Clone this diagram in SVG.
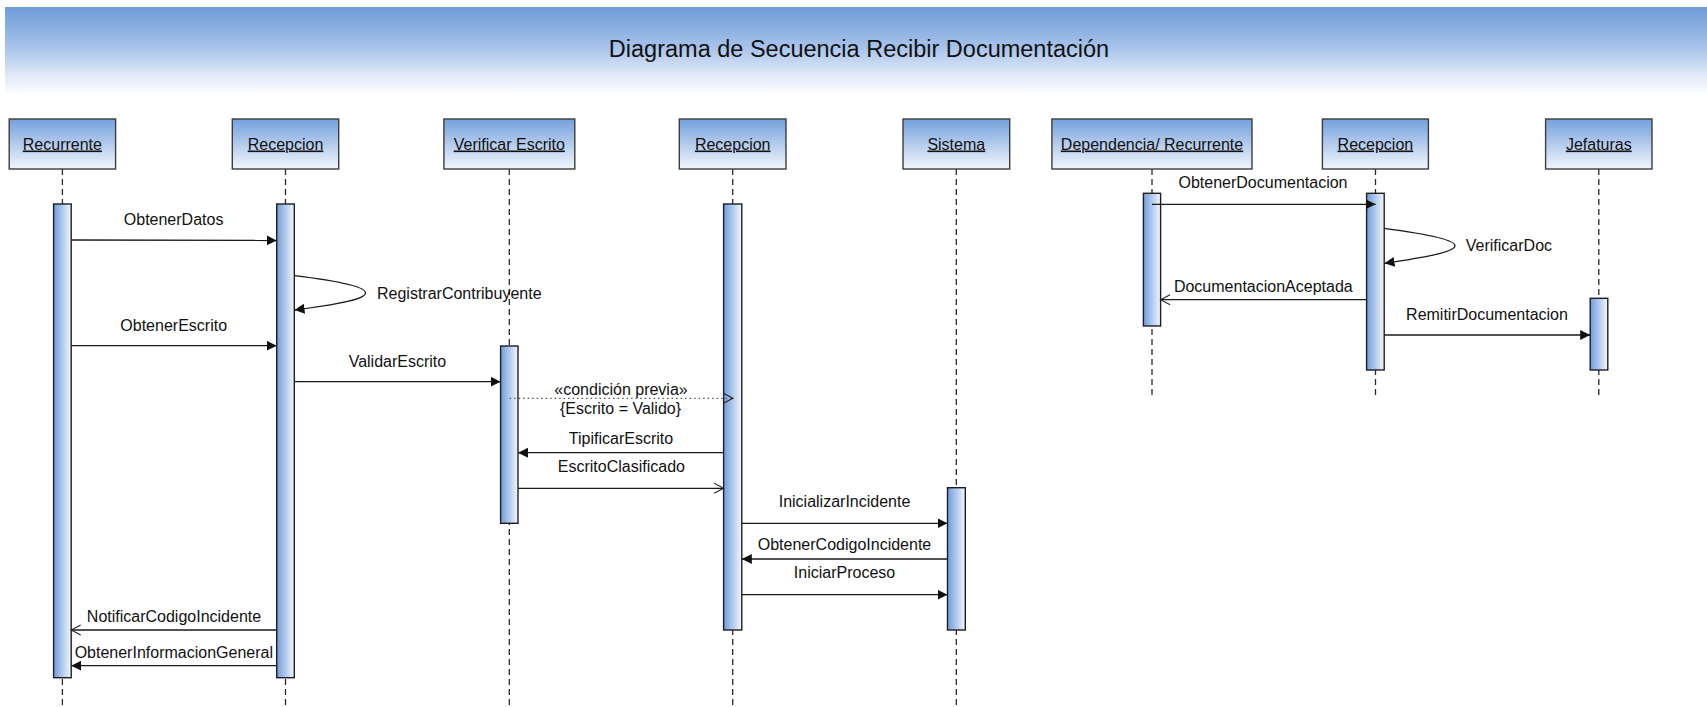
<svg xmlns="http://www.w3.org/2000/svg" width="1707" height="707" viewBox="0 0 1707 707">
  <defs>
    <linearGradient id="bannerFill" x1="0" y1="0" x2="0" y2="1">
      <stop offset="0" stop-color="#6E9CD9"/>
      <stop offset="0.45" stop-color="#A6C2EA"/>
      <stop offset="0.8" stop-color="#E4ECF9"/>
      <stop offset="1" stop-color="#FFFFFF"/>
    </linearGradient>
    <linearGradient id="boxFill" x1="0" y1="0" x2="0" y2="1">
      <stop offset="0" stop-color="#74A0DC"/>
      <stop offset="1" stop-color="#F2F6FD"/>
    </linearGradient>
    <linearGradient id="barFill" x1="0" y1="0" x2="1" y2="0">
      <stop offset="0" stop-color="#6F9CDD"/>
      <stop offset="1" stop-color="#F4F7FD"/>
    </linearGradient>
    <marker id="filled" markerUnits="userSpaceOnUse" markerWidth="12" markerHeight="12" refX="10" refY="5" orient="auto">
      <path d="M0,0 L10,5 L0,10 z" fill="#111"/>
    </marker>
    <marker id="open" markerUnits="userSpaceOnUse" markerWidth="12" markerHeight="12" refX="10" refY="5.5" orient="auto">
      <path d="M0.5,0.5 L10,5.5 L0.5,10.5" fill="none" stroke="#222" stroke-width="1.1"/>
    </marker>
  </defs>
  <style>
    text { font-family: "Liberation Sans", Arial, sans-serif; fill: #111; }
    .title { font-size: 23.5px; text-anchor: middle; }
    .name { font-size: 16px; text-anchor: middle; text-decoration: underline; }
    .lbl { font-size: 16px; text-anchor: middle; }
    .lbl-s { font-size: 16px; text-anchor: start; }
    .box { fill: url(#boxFill); stroke: #3C3C3C; stroke-width: 1.4; }
    .bar { fill: url(#barFill); stroke: #1E1E1E; stroke-width: 1.4; }
    .life { stroke: #2A2A2A; stroke-width: 1.3; stroke-dasharray: 6 4; fill: none; }
    .msg { stroke: #1A1A1A; stroke-width: 1.3; fill: none; }
    .sync { marker-end: url(#filled); }
    .reply { marker-end: url(#open); }
    .cond { stroke: #555; stroke-width: 1.2; stroke-dasharray: 1.5 3; fill: none; marker-end: url(#open); }
  </style>

  <!-- header band -->
  <rect x="5" y="7" width="1702" height="88" fill="url(#bannerFill)"/>
  <text class="title" x="859" y="57">Diagrama de Secuencia Recibir Documentación</text>

  <!-- lifelines -->
  <g id="lifelines">
    <line class="life" x1="62.4" y1="169" x2="62.4" y2="707"/>
    <line class="life" x1="285.5" y1="169" x2="285.5" y2="707"/>
    <line class="life" x1="509.3" y1="169" x2="509.3" y2="707"/>
    <line class="life" x1="732.7" y1="169" x2="732.7" y2="707"/>
    <line class="life" x1="956.3" y1="169" x2="956.3" y2="707"/>
    <line class="life" x1="1152" y1="169" x2="1152" y2="398"/>
    <line class="life" x1="1375.5" y1="169" x2="1375.5" y2="398"/>
    <line class="life" x1="1598.8" y1="169" x2="1598.8" y2="398"/>
  </g>

  <!-- participants -->
  <g id="recurrente">
    <rect class="box" x="9.2" y="119" width="106.4" height="50"/>
    <text class="name" x="62.4" y="149.5">Recurrente</text>
    <rect class="bar" x="53.6" y="204" width="17.6" height="473.7"/>
  </g>
  <g id="recepcion-1">
    <rect class="box" x="232.3" y="119" width="106.4" height="50"/>
    <text class="name" x="285.5" y="149.5">Recepcion</text>
    <rect class="bar" x="276.7" y="204" width="17.6" height="473.7"/>
  </g>
  <g id="verificar-escrito">
    <rect class="box" x="443.9" y="119" width="130.9" height="50"/>
    <text class="name" x="509.3" y="149.5">Verificar Escrito</text>
    <rect class="bar" x="500.6" y="346" width="17.4" height="177.3"/>
  </g>
  <g id="recepcion-2">
    <rect class="box" x="679.3" y="119" width="106.7" height="50"/>
    <text class="name" x="732.7" y="149.5">Recepcion</text>
    <rect class="bar" x="723.6" y="204" width="18.2" height="426"/>
  </g>
  <g id="sistema">
    <rect class="box" x="903" y="119" width="106.7" height="50"/>
    <text class="name" x="956.3" y="149.5">Sistema</text>
    <rect class="bar" x="947.5" y="487.7" width="17.8" height="142.3"/>
  </g>
  <g id="dependencia-recurrente">
    <rect class="box" x="1051.9" y="119" width="200.1" height="50"/>
    <text class="name" x="1152" y="149.5">Dependencia/ Recurrente</text>
    <rect class="bar" x="1143.4" y="193.3" width="17.2" height="132.7"/>
  </g>
  <g id="recepcion-3">
    <rect class="box" x="1322.4" y="119" width="106" height="50"/>
    <text class="name" x="1375.4" y="149.5">Recepcion</text>
    <rect class="bar" x="1366.6" y="193.3" width="17.6" height="176.7"/>
  </g>
  <g id="jefaturas">
    <rect class="box" x="1545.6" y="119" width="106.4" height="50"/>
    <text class="name" x="1598.8" y="149.5">Jefaturas</text>
    <rect class="bar" x="1590.2" y="298.3" width="17.6" height="71.7"/>
  </g>

  <!-- messages -->
  <g id="connectors">
    <line class="msg sync" x1="71.2" y1="240" x2="276.7" y2="240.5"/>
    <path class="msg sync" d="M294.3,275.7 C330,280 365.5,286 365.5,293 C365.5,300 330,305.5 294.5,310"/>
    <line class="msg sync" x1="71.2" y1="345.7" x2="276.7" y2="345.7"/>
    <line class="msg sync" x1="294.3" y1="381.7" x2="500.6" y2="381.7"/>
    <line class="cond" x1="509.6" y1="398.3" x2="733" y2="398.3"/>
    <line class="msg sync" x1="723.6" y1="452.7" x2="518" y2="452.7"/>
    <line class="msg reply" x1="518" y1="488.3" x2="723.6" y2="488.3"/>
    <line class="msg sync" x1="741.8" y1="523.3" x2="947.5" y2="523.3"/>
    <line class="msg sync" x1="947.5" y1="559" x2="741.8" y2="559"/>
    <line class="msg sync" x1="741.8" y1="594.7" x2="947.5" y2="594.7"/>
    <line class="msg reply" x1="276.7" y1="630" x2="71.2" y2="630"/>
    <line class="msg sync" x1="276.7" y1="665.7" x2="71.2" y2="665.7"/>
    <line class="msg sync" x1="1152" y1="204.3" x2="1375.6" y2="204.3"/>
    <path class="msg sync" d="M1384.2,228.3 C1420,233 1455,239 1455,245.7 C1455,252.5 1420,258 1384.5,263.3"/>
    <line class="msg reply" x1="1366.6" y1="299.7" x2="1160.6" y2="299.7"/>
    <line class="msg sync" x1="1384.2" y1="335" x2="1590.2" y2="335"/>
  </g>

  <!-- message labels -->
  <g id="labels">
    <text class="lbl" x="173.6" y="224.8">ObtenerDatos</text>
    <text class="lbl-s" x="377" y="298.8">RegistrarContribuyente</text>
    <text class="lbl" x="173.7" y="330.5">ObtenerEscrito</text>
    <text class="lbl" x="397.4" y="366.5">ValidarEscrito</text>
    <text class="lbl" x="621" y="394.5">«condición previa»</text>
    <text class="lbl" x="620.5" y="413.5">{Escrito = Valido}</text>
    <text class="lbl" x="621" y="443.5">TipificarEscrito</text>
    <text class="lbl" x="621.4" y="472">EscritoClasificado</text>
    <text class="lbl" x="844.5" y="507">InicializarIncidente</text>
    <text class="lbl" x="844.5" y="549.5">ObtenerCodigoIncidente</text>
    <text class="lbl" x="844.5" y="578">IniciarProceso</text>
    <text class="lbl" x="174" y="621.5">NotificarCodigoIncidente</text>
    <text class="lbl" x="173.8" y="658">ObtenerInformacionGeneral</text>
    <text class="lbl" x="1263" y="188">ObtenerDocumentacion</text>
    <text class="lbl-s" x="1465.8" y="251">VerificarDoc</text>
    <text class="lbl" x="1263.3" y="291.5">DocumentacionAceptada</text>
    <text class="lbl" x="1487" y="319.5">RemitirDocumentacion</text>
  </g>
</svg>
